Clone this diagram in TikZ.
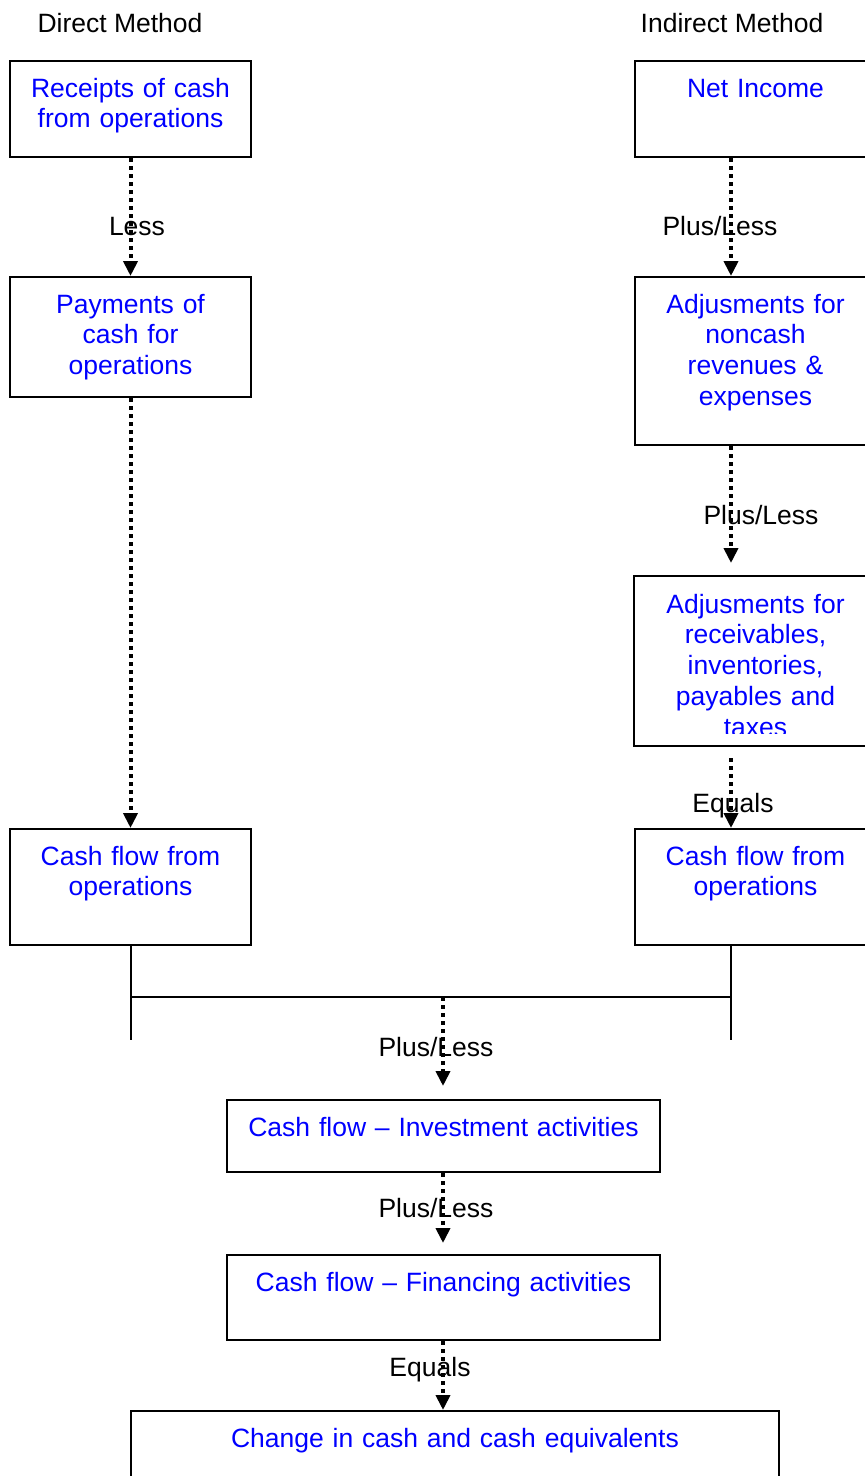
\documentclass[tikz,border=0pt]{standalone}
\usepackage{fontspec}
\setmainfont{Liberation Sans}
\usetikzlibrary{arrows.meta}

\begin{document}
\begin{tikzpicture}[x=1pt, y=-1pt,
        box/.style={draw, line width=2pt, inner sep=0pt, anchor=north, align=center,
            text=blue, text height=36pt, font=\fontsize{26.5}{30.75}\selectfont},
        tag/.style={anchor=base, inner sep=0pt, font=\fontsize{26.5}{30.75}\selectfont},
        flow/.style={line width=4pt, dash pattern=on 4pt off 4pt,
            -{Triangle[length=15pt,width=14pt]}},
        link/.style={line width=2pt}]
            \useasboundingbox (0,0) rectangle (865,1476);

            \node[tag] (dirhead) at (120,32) {Direct Method};
            \node[tag] (indhead) at (732,32) {Indirect Method};

            % direct method
            \node[box, text width=241pt, text depth=60pt] (receipts) at (130.5,60) {Receipts of cash\\from operations};
            \node[box, text width=241pt, text depth=84pt] (payments) at (130.5,276) {Payments of\\cash for\\operations};
            \node[box, text width=241pt, text depth=80pt] (cfol) at (130.5,828) {Cash flow from\\operations};

            % indirect method
            \node[box, text width=241pt, text depth=60pt] (netinc) at (755.5,60) {Net Income};
            \node[box, text width=241pt, text depth=132pt] (adjnc) at (755.5,276) {Adjusments for\\noncash\\revenues \&\\expenses};
            \begin{scope}
                \clip (630,570) rectangle (880,733);
                \node[box, draw=none, text width=241pt, text depth=132pt] (adjwc) at (755.5,576) {Adjusments for\\receivables,\\inventories,\\payables and\\taxes};
            \end{scope}
            \draw[link] (adjwc.north west) rectangle (adjwc.south east);
            \node[box, text width=241pt, text depth=80pt] (cfor) at (755.5,828) {Cash flow from\\operations};

            % common part
            \node[box, text width=433pt, text depth=36pt] (invest) at (443.5,1099) {Cash flow -- Investment activities};
            \node[box, text width=433pt, text depth=49pt] (finance) at (443.5,1254) {Cash flow -- Financing activities};
            \node[box, text width=648pt, text depth=100pt] (change) at (455,1410) {Change in cash and cash equivalents};

            \coordinate (rspine) at (731,0);
            \coordinate (mid) at (443,997);
            \coordinate (lfoot) at (130.5,1040);
            \coordinate (rfoot) at (731,1040);

            \draw[flow] (receipts) -- (payments);
            \draw[flow] (payments) -- (cfol);
            \draw[flow] (netinc.south -| rspine) -- (adjnc.north -| rspine);
            \draw[flow, shorten >=13pt] (adjnc.south -| rspine) -- (adjwc.north -| rspine);
            \draw[flow, shorten <=12pt] (adjwc.south -| rspine) -- (cfor.north -| rspine);

            \draw[link] (cfol.south) -- (lfoot);
            \draw[link] (cfor.south -| rspine) -- (rfoot);
            \draw[link] (lfoot |- mid) -- (rfoot |- mid);

            \draw[flow, shorten >=13pt] (mid) -- (invest.north -| mid);
            \draw[flow, shorten >=11pt] (invest.south -| mid) -- (finance.north -| mid);
            \draw[flow] (finance.south -| mid) -- (change.north -| mid);

            \node[tag] (less) at (137,235) {Less};
            \node[tag] (pl1) at (720,235) {Plus/Less};
            \node[tag] (pl2) at (761,524) {Plus/Less};
            \node[tag] (eq1) at (733,812) {Equals};
            \node[tag] (pl3) at (436,1056) {Plus/Less};
            \node[tag] (pl4) at (436,1217) {Plus/Less};
            \node[tag] (eq2) at (430,1376) {Equals};
        \end{tikzpicture}
\end{document}
